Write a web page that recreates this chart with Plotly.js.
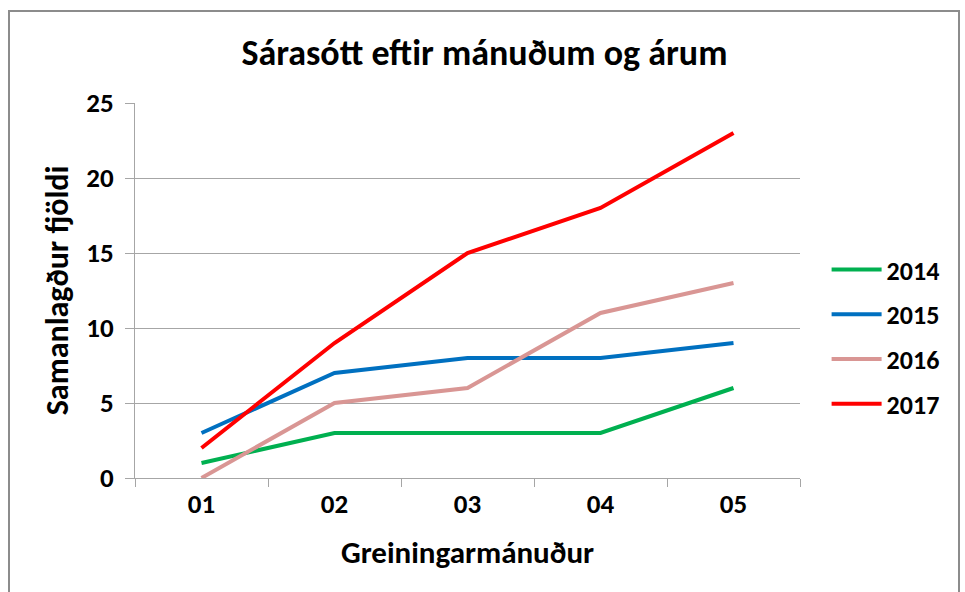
<!DOCTYPE html>
<html><head><meta charset="utf-8">
<script src="https://cdn.plot.ly/plotly-3.0.1.min.js"></script>
<style>body{margin:0;background:#fff}#frame{position:absolute;left:8px;top:10px;width:948px;height:600px;border:2px solid #8c8c8c;pointer-events:none}</style>
</head><body>
<div id="chart" style="width:965px;height:592px"></div>
<div id="frame"></div>
<script>
const months = ["01","02","03","04","05"];
const years = ["2014","2015","2016","2017"];
const v2014 = [1,3,3,3,6];
const v2015 = [3,7,8,8,9];
const v2016 = [0,5,6,11,13];
const v2017 = [2,9,15,18,23];
const colors = ["#00B050","#0070C0","#D99694","#FF0000"];
const series = [v2014,v2015,v2016,v2017];
const F = "Calibri, Carlito, Lato, sans-serif";
const traces = series.map((s,i)=>({x:months,y:s,type:'scatter',mode:'lines',name:years[i],legendgroup:years[i],
  line:{color:colors[i],width:4}}));
Plotly.newPlot('chart',traces,{
  width:965,height:592,
  margin:{l:135,r:165,t:103,b:114},
  paper_bgcolor:'#fff',plot_bgcolor:'#fff',
  title:{text:'<b>Sárasótt eftir mánuðum og árum</b>',font:{family:F,size:36,color:'#000'},x:0.502,xanchor:'center',y:0.912,yanchor:'middle'},
  xaxis:{type:'category',range:[-0.5,4.5],showgrid:false,showline:true,linecolor:'#a6a6a6',linewidth:1,
    ticks:'outside',tickson:'boundaries',ticklen:8,tickcolor:'#a6a6a6',tickfont:{family:F,size:27,color:'#000',weight:'bold'},ticklabelstandoff:2,
    title:{text:'<b>Greiningarmánuður</b>',font:{family:F,size:31,color:'#000'},standoff:21}},
  yaxis:{range:[0,25],dtick:5,showgrid:true,gridcolor:'#a6a6a6',gridwidth:1,showline:true,linecolor:'#a6a6a6',
    ticks:'outside',ticklen:9,tickcolor:'#a6a6a6',tickfont:{family:F,size:27,color:'#000',weight:'bold'},zeroline:false,ticklabelstandoff:6,
    title:{text:'<b>Samanlagður fjöldi</b>',font:{family:F,size:32,color:'#000'},standoff:8}},
  legend:{x:1.04,xanchor:'left',y:0.376,yanchor:'middle',font:{family:F,size:26,color:'#000',weight:'bold'},tracegroupgap:8,itemwidth:50},
  showlegend:true
},{displayModeBar:false});
</script></body></html>
